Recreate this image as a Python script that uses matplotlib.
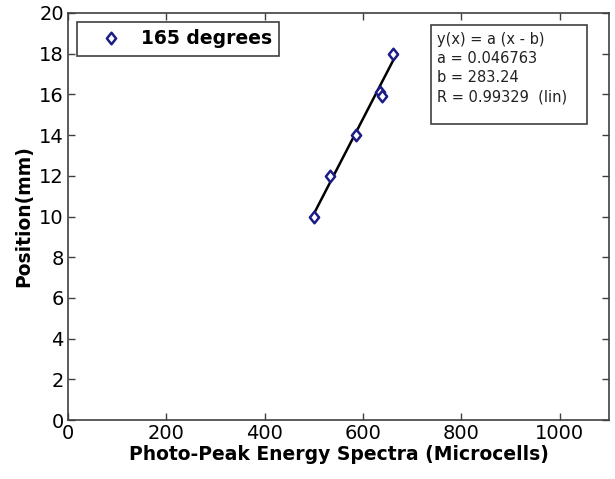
import numpy as np
import matplotlib
matplotlib.use("Agg")
import matplotlib.pyplot as plt
from matplotlib.path import Path
from matplotlib.patches import Rectangle

# measured points, 165 degree run
energy = [500, 533, 585, 634, 638, 661]
position = [10, 12, 14, 16.1, 15.9, 18]

# linear fit reported by the fitting tool
fit_a = 0.046763
fit_b = 283.24
fit_r = 0.99329

xticks = [0, 200, 400, 600, 800, 1000]
yticks = [0, 2, 4, 6, 8, 10, 12, 14, 16, 18, 20]

W, H = 615, 479
edge = "#404040"
navy = "#1c1c86"

# slightly narrow diamond, like the matlab one
diamond = Path([(0, 1), (0.8, 0), (0, -1), (-0.8, 0), (0, 1)],
               [Path.MOVETO, Path.LINETO, Path.LINETO, Path.LINETO, Path.CLOSEPOLY])

fig = plt.figure(figsize=(W / 100, H / 100), dpi=100)
ax = fig.add_axes([68 / W, 1 - 420 / H, (609 - 68) / W, (420 - 13) / H])

fit_x = np.array([min(energy), max(energy)])
ax.plot(fit_x, fit_a * (fit_x - fit_b), color="black", lw=1.8, zorder=2)
ax.plot(energy, position, ls="none", marker=diamond, ms=8.3, mfc="white",
        mec=navy, mew=1.8, label="165 degrees", zorder=3)

ax.set_xlim(0, 1100)
ax.set_ylim(0, 20)
ax.set_xticks(xticks)
ax.set_yticks(yticks)
ax.tick_params(direction="in", length=5, width=1, colors=edge,
               labelcolor="black", labelsize=14, top=True, right=True, pad=3)
for s in ax.spines.values():
    s.set_color(edge)
    s.set_linewidth(1.2)

ax.set_xlabel("Photo-Peak Energy Spectra (Microcells)", fontsize=13.5,
              fontweight="bold", labelpad=1)
ax.set_ylabel("Position(mm)", fontsize=13.5, fontweight="bold", labelpad=4)

leg = ax.legend(loc="upper left", bbox_to_anchor=((77 - 68) / 541, 1 - (22 - 13) / 407),
                prop={"size": 13.5, "weight": "bold"}, fancybox=False,
                edgecolor=edge, framealpha=1, borderpad=0.4,
                handletextpad=0.2, borderaxespad=0, handlelength=2.8)
leg.get_frame().set_linewidth(1.2)

# fit result box
fig.patches.append(Rectangle((431 / W, 1 - 124 / H), (587 - 431) / W, (124 - 25) / H,
                             transform=fig.transFigure, fc="white", ec=edge, lw=1.2,
                             zorder=5))
fit_text = ("y(x) = a (x - b)\n"
            f"a = {fit_a}\n"
            f"b = {fit_b}\n"
            f"R = {fit_r}  (lin)")
fig.text(437 / W, 1 - 32 / H, fit_text, fontsize=10.5, va="top", ha="left",
         linespacing=1.34, color="#222222", zorder=6)

fig.savefig("out.png", dpi=100)
